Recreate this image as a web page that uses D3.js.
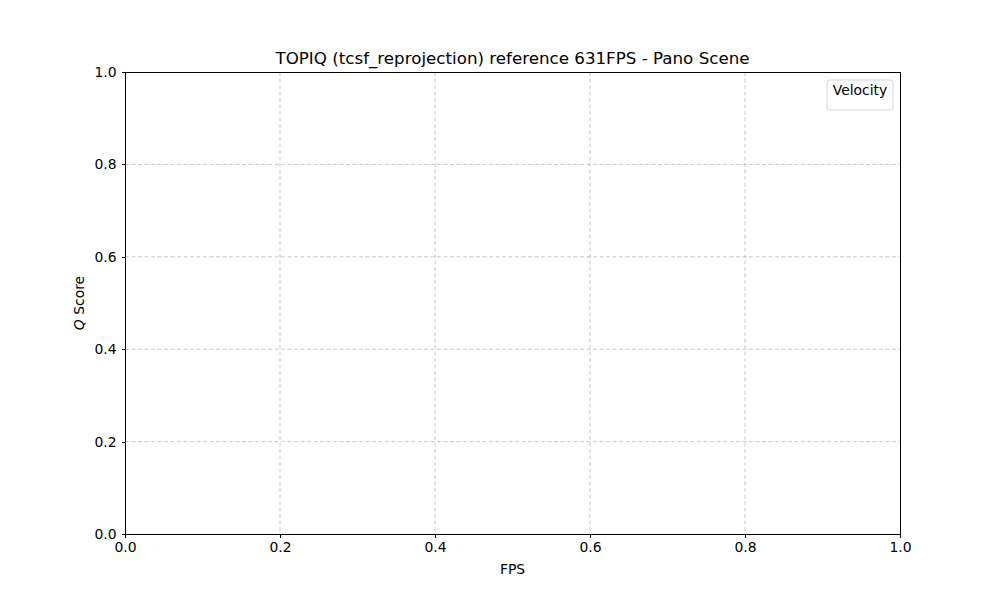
<!DOCTYPE html>
<html>
<head>
<meta charset="utf-8">
<script src="https://cdn.jsdelivr.net/npm/d3@7"></script>
<style>
  body { margin: 0; background: #fff; }
  text { font-family: "DejaVu Sans", sans-serif; }
  .grid line { stroke: #b0b0b0; stroke-dasharray: 4,2.5; stroke-opacity: 0.7; }
</style>
</head>
<body>
<script>
//chart texts and values
var chartTitle = "TOPIQ (tcsf_reprojection) reference 631FPS - Pano Scene";
var xLabel = "FPS";
var legendTitle = "Velocity";
var xDomain = [0, 1];
var yDomain = [0, 1];
var xTicks = [0.0, 0.2, 0.4, 0.6, 0.8, 1.0];
var yTicks = [0.0, 0.2, 0.4, 0.6, 0.8, 1.0];
var series = []; //no data plotted

window.onload = drawChart();

function drawChart(){
    var width = 1000, height = 600;
    var margin = {left: 125, right: 100, top: 72, bottom: 66};
    var innerW = width - margin.left - margin.right,
        innerH = height - margin.top - margin.bottom;

    var svg = d3.select("body").append("svg")
        .attr("width", width)
        .attr("height", height);

    var g = svg.append("g")
        .attr("transform", "translate(" + margin.left + "," + margin.top + ")");

    var x = d3.scaleLinear().domain(xDomain).range([0, innerW]);
    var y = d3.scaleLinear().domain(yDomain).range([innerH, 0]);

    //grid lines
    g.append("g").attr("class", "grid")
        .selectAll("line").data(xTicks.slice(1, -1)).enter().append("line")
        .attr("x1", function(d){ return x(d); })
        .attr("x2", function(d){ return x(d); })
        .attr("y1", 0).attr("y2", innerH);
    g.append("g").attr("class", "grid")
        .selectAll("line").data(yTicks.slice(1, -1)).enter().append("line")
        .attr("y1", function(d){ return y(d); })
        .attr("y2", function(d){ return y(d); })
        .attr("x1", 0).attr("x2", innerW);

    //axes
    var xAxis = g.append("g")
        .attr("transform", "translate(0," + innerH + ")")
        .call(d3.axisBottom(x).tickValues(xTicks).tickFormat(d3.format(".1f")).tickSize(3.5).tickPadding(5));
    var yAxis = g.append("g")
        .call(d3.axisLeft(y).tickValues(yTicks).tickFormat(d3.format(".1f")).tickSize(3.5).tickPadding(5));
    [xAxis, yAxis].forEach(function(a){
        a.select(".domain").remove();
        a.selectAll("text").style("font-size", "13.9px").attr("fill", "#000")
            .style("font-family", "DejaVu Sans, sans-serif");
        a.selectAll("line").attr("stroke", "#000").attr("stroke-width", 1)
            .attr("shape-rendering", "crispEdges");
    });

    //frame
    g.append("rect")
        .attr("width", innerW).attr("height", innerH)
        .attr("fill", "none").attr("stroke", "#000").attr("stroke-width", 1)
        .attr("shape-rendering", "crispEdges");

    //title and labels
    svg.append("text")
        .attr("x", margin.left + innerW / 2).attr("y", 64)
        .attr("text-anchor", "middle")
        .style("font-size", "16.7px")
        .text(chartTitle);
    svg.append("text")
        .attr("x", margin.left + innerW / 2).attr("y", 574)
        .attr("text-anchor", "middle")
        .style("font-size", "13.9px")
        .text(xLabel);
    var yl = svg.append("text")
        .attr("transform", "translate(84," + (margin.top + innerH / 2) + ") rotate(-90)")
        .attr("text-anchor", "middle")
        .style("font-size", "13.9px");
    yl.append("tspan").style("font-style", "italic").text("Q");
    yl.append("tspan").text(" Score");

    //legend (title only, no entries)
    var legend = svg.append("g").attr("transform", "translate(827,80)");
    legend.append("rect")
        .attr("width", 66).attr("height", 30).attr("rx", 3)
        .attr("fill", "#fff").attr("fill-opacity", 0.8)
        .attr("stroke", "#d6d6d6").attr("stroke-width", 1);
    legend.append("text")
        .attr("x", 33).attr("y", 15)
        .attr("text-anchor", "middle")
        .style("font-size", "13.9px")
        .text(legendTitle);

    g.selectAll(".series").data(series).enter().append("path").attr("class", "series");
}
</script>
</body>
</html>
